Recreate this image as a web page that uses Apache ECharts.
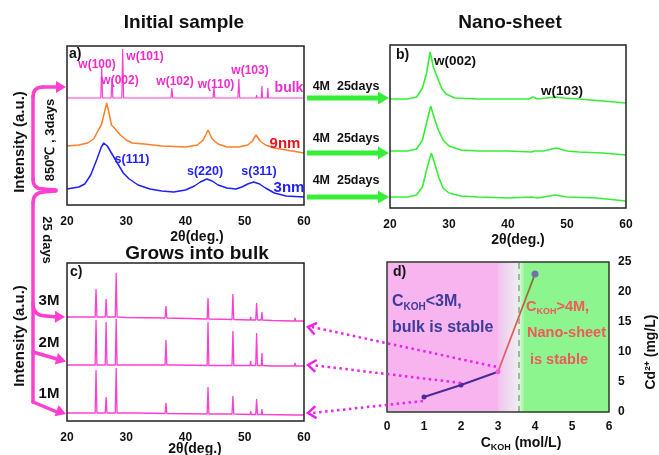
<!DOCTYPE html>
<html><head><meta charset="utf-8">
<script src="https://cdn.jsdelivr.net/npm/echarts@6/dist/echarts.min.js"></script>
<style>html,body{margin:0;padding:0;background:#fff}#c{width:659px;height:455px}</style>
</head><body><div id="c"></div>
<script>
// ---------- tick labels ----------
const xrdTicks = [20, 30, 40, 50, 60];
const kohTicks = [0, 1, 2, 3, 4, 5, 6];
const cdTicks = [0, 5, 10, 15, 20, 25];

// ---------- panel a: initial sample (2θ, intensity a.u.) ----------
const bulk = [[20,107],[25.7,107],[25.85,138],[26.0,107],[27.45,107],[27.6,127],[27.75,107],[29.25,107],[29.4,156],[29.55,107],
  [37.55,107],[37.7,117],[37.85,107],[44.65,107],[44.8,118],[44.95,107],[48.85,107],[49.0,126],[49.15,107],
  [51.9,107],[52.0,110],[52.1,107],[52.8,107],[52.9,119],[53.0,107],[53.8,107],[53.9,117],[54.0,107],
  [55.7,107],[55.8,108],[55.9,107],[59.3,107],[59.4,109],[59.5,107],[60,107]];
const nano9 = [[20,59],[22,60],[23.5,62],[24.5,66],[25.3,75],[25.8,80],[26.3,92],[26.7,102],[27.1,92],[27.5,80],[28,77],
  [29,70],[30,65],[31,62],[33,61],[36,59],[40,58],[42,60],[43,65],[43.8,75],[44.5,66],[45.5,61],[47,58],[49,58],
  [50.5,60],[51.3,64],[51.9,70],[52.6,64],[53.5,60],[55,57],[57,55],[60,52]];
const nano3 = [[20,16],[22,18],[23,21],[24,30],[25,45],[25.8,58],[26.2,62],[26.8,59],[27.5,52],[28.5,42],[29.5,32],[30.5,26],
  [32,20],[34,16],[36,14],[38,13],[40,15],[41.5,19],[42.5,23],[43.6,26],[44.5,24],[45.5,20],[47,17],[48.5,16],
  [49.5,18],[50.5,21],[51.5,23],[52.5,21],[53.5,17],[55,12],[57,9],[60,8]];

// ---------- panel b: nano-sheet after 4M, 25 days ----------
const sheetTop = [[20,109],[23,109],[24.5,111],[25.5,120],[26.2,135],[26.8,156],[27.4,140],[28,131],[28.8,119],[29.5,114],
  [31,110],[35,109],[40,109],[43.5,109],[44.2,111],[45,109],[46.5,110],[48,111],[49.5,110],[52,109],[56,107],[60,105]];
const sheetMid = [[20,57],[23,57],[24.5,59],[25.5,68],[26.2,85],[26.9,102],[27.5,90],[28.2,78],[29,68],[30,62],[32,58],
  [35,57],[40,57],[44,56],[44.5,57],[46,57],[48.2,60],[50,57],[52,56],[56,55],[60,53]];
const sheetBot = [[20,11],[23,11],[24.5,13],[25.5,21],[26.2,38],[27,55],[27.6,44],[28.3,30],[29,20],[30,15],[32,12],
  [35,11],[40,10],[44,11],[45,10],[48,13],[50,11],[55,10],[60,7]];

// ---------- panel c: grows into bulk ----------
const grow3M = [[20,104],[24.75,104],[24.9,132],[25.05,104],[26.45,104],[26.6,122],[26.75,104],[28.15,104],[28.3,148],[28.45,104],
  [30,103.5],[36.55,103],[36.7,115],[36.85,103],[43.65,102],[43.8,123],[43.95,102],[47.85,101.5],[48,127],[48.15,101.5],
  [50.9,101],[51,104],[51.1,101],[51.85,101],[52,118],[52.15,101],[52.8,101],[52.9,109],[53,101],
  [54.6,100.5],[54.7,102],[54.8,100.5],[58.4,100],[58.5,103],[58.6,100],[60,100]];
const grow2M = [[20,56],[24.75,56],[24.9,101],[25.05,56],[26.45,56],[26.6,99],[26.75,56],[28.15,56],[28.3,102],[28.45,56],
  [36.55,56],[36.7,81],[36.85,56],[38.4,56],[38.5,58],[38.6,56],[43.65,55.5],[43.8,99],[43.95,55.5],[47.85,55.5],[48,90],[48.15,55.5],
  [50.9,55.5],[51,60],[51.1,55.5],[51.85,55.5],[52,88],[52.15,55.5],[52.8,55.5],[52.9,68],[53,55.5],
  [54.6,55],[54.7,57],[54.8,55],[58.4,55],[58.5,58],[58.6,55],[60,55]];
const grow1M = [[20,8],[24.75,8],[24.9,51],[25.05,8],[26.45,8],[26.6,24],[26.75,8],[28.15,8],[28.3,53],[28.45,8],
  [31.9,8],[32,9],[32.1,8],[36.55,7.5],[36.7,18],[36.85,7.5],[43.65,7],[43.8,34],[43.95,7],[47.85,7],[48,25],[48.15,7],
  [50.9,6.5],[51,10],[51.1,6.5],[51.85,6.5],[52,22],[52.15,6.5],[52.8,6.5],[52.9,12],[53,6.5],[58.4,6],[58.5,8],[58.6,6],[60,6]];

// ---------- panel d: Cd2+ vs C_KOH ----------
const kohLow = [[1,2.5],[2,4.5],[3,6.7]];
const kohHigh = [[3,6.7],[4,23]];
const pinkEnd = 3, greenStart = 3.7, dashX = 3.57;

const FONT = '"Liberation Sans", Arial, sans-serif';
const PINK = '#ff3fd0';
const GREEN = '#36ee36';

const grids = [
  {left:67, top:46, width:237, height:159},
  {left:390, top:45, width:236, height:163},
  {left:67, top:263, width:237, height:158},
  {left:387, top:262, width:222, height:150}
];
const yMax = [159, 163, 158];

const chart = echarts.init(document.getElementById('c'), null, {renderer:'canvas'});

function xrdX(i){
  return {gridIndex:i, type:'value', min:xrdTicks[0], max:xrdTicks[xrdTicks.length-1], interval:xrdTicks[1]-xrdTicks[0],
    axisLine:{show:false}, axisTick:{show:false}, splitLine:{show:false},
    axisLabel:{fontWeight:'bold', fontSize:12, color:'#111', margin:11, fontFamily:FONT}};
}
function xrdY(i){ return {gridIndex:i, type:'value', min:0, max:yMax[i], show:false}; }
function ls(i, data, color, width){
  return {type:'line', xAxisIndex:i, yAxisIndex:i, data, symbol:'none', showSymbol:false, silent:true,
    lineStyle:{color, width}, z:3, animation:false};
}

chart.setOption({
  animation:false,
  grid: grids.map(g => Object.assign({containLabel:false}, g)),
  xAxis: [xrdX(0), xrdX(1), xrdX(2),
    {gridIndex:3, type:'value', min:kohTicks[0], max:kohTicks[kohTicks.length-1], interval:kohTicks[1]-kohTicks[0],
     axisLine:{show:false}, axisTick:{show:false}, splitLine:{show:false},
     axisLabel:{fontWeight:'bold', fontSize:12, color:'#111', margin:9, fontFamily:FONT}}],
  yAxis: [xrdY(0), xrdY(1), xrdY(2),
    {gridIndex:3, type:'value', position:'right', min:cdTicks[0], max:cdTicks[cdTicks.length-1], interval:cdTicks[1]-cdTicks[0],
     axisLine:{show:false}, axisTick:{show:false}, splitLine:{show:false},
     axisLabel:{fontWeight:'bold', fontSize:12, color:'#111', margin:9, fontFamily:FONT}}],
  series: [
    ls(0, bulk, PINK, 1.2), ls(0, nano9, '#ff7d24', 1.5), ls(0, nano3, '#1f1fff', 1.5),
    ls(1, sheetTop, GREEN, 1.6), ls(1, sheetMid, GREEN, 1.6), ls(1, sheetBot, GREEN, 1.6),
    ls(2, grow3M, PINK, 1.3), ls(2, grow2M, PINK, 1.3), ls(2, grow1M, PINK, 1.3),
    {type:'line', xAxisIndex:3, yAxisIndex:3, data:kohLow, symbol:'none', lineStyle:{opacity:0}, silent:true, z:1,
     markArea:{silent:true, data:[
       [{xAxis:kohTicks[0], itemStyle:{color:'#f7b4ef'}}, {xAxis:pinkEnd}],
       [{xAxis:pinkEnd, itemStyle:{color:{type:'linear', x:0, y:0, x2:1, y2:0, colorStops:[
          {offset:0, color:'#f1c3f0'}, {offset:0.7, color:'#eeeaf0'}, {offset:0.85, color:'#d8f6d8'}, {offset:1, color:'#98f598'}]}}},
        {xAxis:greenStart}],
       [{xAxis:greenStart, itemStyle:{color:'#8df58d'}}, {xAxis:kohTicks[kohTicks.length-1]}]
     ]},
     markLine:{silent:true, symbol:'none', label:{show:false}, lineStyle:{color:'#999', type:[6,5], width:1.5},
       data:[{xAxis:dashX}]}},
    {type:'line', xAxisIndex:3, yAxisIndex:3, z:5, silent:true,
     data: kohLow.map((p,i) => i === kohLow.length-1 ? {value:p, itemStyle:{color:'#ff55dd'}} : {value:p}),
     symbol:'circle', symbolSize:5, itemStyle:{color:'#4a2a9a'}, lineStyle:{color:'#4a2a9a', width:2}},
    {type:'line', xAxisIndex:3, yAxisIndex:3, z:4, silent:true,
     data: kohHigh.map((p,i) => i === 0 ? {value:p, symbol:'none'} : {value:p, symbolSize:7, itemStyle:{color:'#7272aa'}}),
     symbol:'circle',
     lineStyle:{width:1.8, color:{type:'linear', x:0, y:1, x2:0, y2:0, colorStops:[
       {offset:0, color:'#f2587a'}, {offset:0.5, color:'#dd6048'}, {offset:1, color:'#6c7a2c'}]}}}
  ]
});

// ---------- annotations ----------
const P = (i, pt) => chart.convertToPixel({xAxisIndex:i, yAxisIndex:i}, pt);
const G = [];
function txt(x, y, text, size, color, opts){
  opts = opts || {};
  G.push({type:'text', x, y, rotation:opts.rot || 0, z:70, silent:true,
    style:{text, fill:color || '#111', font:(opts.weight || 'bold') + ' ' + size + 'px ' + FONT,
      textAlign:opts.align || 'center', textVerticalAlign:'middle', align:opts.align || 'center', verticalAlign:'middle'}});
}
function rich(x, y, parts, size, color, align){
  const richDef = {
    b:{fontSize:size, fontWeight:'bold', fill:color, fontFamily:FONT, lineHeight:size+4, verticalAlign:'middle'},
    s:{fontSize:Math.round(size*0.62), fontWeight:'bold', fill:color, fontFamily:FONT, lineHeight:Math.round(size*0.62)+1, verticalAlign:'bottom'}
  };
  G.push({type:'text', x, y, z:70, silent:true,
    style:{text:parts, rich:richDef, textAlign:align||'left', align:align||'left', textVerticalAlign:'middle', verticalAlign:'middle'}});
}
function head(tip, from, len, hw, color){
  const dx = tip[0]-from[0], dy = tip[1]-from[1], L = Math.hypot(dx,dy), ux = dx/L, uy = dy/L;
  const bx = tip[0]-ux*len, by = tip[1]-uy*len;
  G.push({type:'polygon', z:60, silent:true, shape:{points:[[bx-uy*hw, by+ux*hw],[tip[0],tip[1]],[bx+uy*hw, by-ux*hw]]}, style:{fill:color}});
}
function chevron(tip, from, len, hw, color){
  const dx = tip[0]-from[0], dy = tip[1]-from[1], L = Math.hypot(dx,dy), ux = dx/L, uy = dy/L;
  const bx = tip[0]-ux*len, by = tip[1]-uy*len;
  G.push({type:'polyline', z:60, silent:true, shape:{points:[[bx-uy*hw, by+ux*hw],[tip[0],tip[1]],[bx+uy*hw, by-ux*hw]]},
    style:{stroke:color, lineWidth:2.5, fill:null}});
}
const bs = {stroke:PINK, lineWidth:3.5, lineCap:'round', fill:null};
function seg(x1,y1,x2,y2){ G.push({type:'line', z:55, silent:true, shape:{x1,y1,x2,y2}, style:bs}); }
function quad(x1,y1,cx,cy,x2,y2){ G.push({type:'bezierCurve', z:55, silent:true, shape:{x1,y1,x2,y2,cpx1:cx,cpy1:cy}, style:bs}); }

// frames
grids.forEach((g,i) => G.push({type:'rect', z:50, silent:true, shape:{x:g.left, y:g.top, width:g.width, height:g.height},
  style:{fill:null, stroke: i===3 ? '#2e3a2e' : '#222', lineWidth:1.5}}));

// titles
txt(184, 23, 'Initial sample', 19);
txt(510, 23, 'Nano-sheet', 19);
txt(197, 254, 'Grows into bulk', 19);
txt(69, 54, 'a)', 14, '#111', {align:'left'});
txt(396, 55, 'b)', 14, '#111', {align:'left'});
txt(70, 272, 'c)', 14, '#111', {align:'left'});
txt(393, 272, 'd)', 14, '#111', {align:'left'});

// axis names
txt(197, 237, '2θ(deg.)', 14);
txt(518, 240, '2θ(deg.)', 14);
txt(195, 449, '2θ(deg.)', 14);
rich(521, 443, '{b|C}{s|KOH}{b| (mol/L)}', 14, '#111', 'center');
txt(651, 352, 'Cd²⁺ (mg/L)', 14, '#111', {rot:Math.PI/2});

// panel a labels
const MAG = '#ee2ccc';
[['w(100)',97,65],['w(002)',120,81],['w(101)',145,57],['w(102)',175,82],['w(110)',216,85],['w(103)',250,71]]
  .forEach(([t,x,y]) => txt(x, y, t, 12, MAG));
txt(289, 88, 'bulk', 14, MAG);
txt(285, 144, '9nm', 15, '#e8141e');
txt(289, 188, '3nm', 15, '#1f1fff');
[['s(111)',132,160],['s(220)',205,172],['s(311)',259,172]].forEach(([t,x,y]) => txt(x, y, t, 12.5, '#1f1fff'));

// panel b labels
txt(455, 61, 'w(002)', 13.5);
txt(562, 91, 'w(103)', 13.5);

// green arrows a -> b
const aEnds = [bulk, nano9, nano3].map(s => P(0, s[s.length-1])[1]);
const tY = [87, 139, 181];
aEnds.forEach((y, k) => {
  const x0 = grids[0].left + grids[0].width + 3, tip = grids[1].left - 1;
  G.push({type:'line', z:60, silent:true, shape:{x1:x0, y1:y, x2:tip-9, y2:y}, style:{stroke:GREEN, lineWidth:5}});
  head([tip, y], [x0, y], 11, 6.5, GREEN);
  txt(346, tY[k], '4M  25days', 12.5);
});

// left side annotations
txt(20, 142, 'Intensity (a.u.)', 15, '#111', {rot:Math.PI/2});
txt(20, 336, 'Intensity (a.u.)', 15, '#111', {rot:Math.PI/2});
txt(50, 140, '850℃ , 3days', 13, '#111', {rot:Math.PI/2});
txt(47, 240, '25 days', 13, '#111', {rot:-Math.PI/2});
txt(49, 301, '3M', 15);
txt(49, 343, '2M', 15);
txt(49, 394, '1M', 15);

// brace + branches
seg(58,87,43,87); quad(43,87,33,87,33,97); seg(33,97,33,179); quad(33,179,33,189,43,189); seg(43,189,56,190);
seg(56,191,43,192); quad(43,192,33,193,33,203); seg(33,203,33,402);
quad(33,303,33,316,46,316); seg(46,316,57,317);
seg(33,352,57,359);
seg(33,402,57,412);
head([66, 87], [40, 87], 10, 6, PINK);
head([65, 317], [45, 316.5], 10, 6, PINK);
head([66, 361.5], [33, 352], 10, 6, PINK);
head([66, 414], [33, 402], 10, 6, PINK);

// panel d texts
rich(392, 302, '{b|C}{s|KOH}{b|<3M,}', 16, '#3c3c9c');
txt(392, 328, 'bulk is stable', 16, '#3c3c9c', {align:'left'});
rich(526, 307, '{b|C}{s|KOH}{b|>4M,}', 14.5, '#f05a5a');
txt(527, 333, 'Nano-sheet', 14.5, '#f05a5a', {align:'left'});
txt(530, 360, 'is stable', 14.5, '#f05a5a', {align:'left'});

// dotted arrows d -> c
const cEnds = [grow3M, grow2M, grow1M].map(s => P(2, s[s.length-1]));
const dPts = [P(3, kohLow[2]), P(3, kohLow[1]), P(3, kohLow[0])];
const yAdj = [6, -1, -2];
const sAdj = [[-2,-5],[0,-2],[-1,4]];
dPts.forEach((st, k) => {
  const tip = [grids[2].left + grids[2].width + 4, cEnds[k][1] + yAdj[k]];
  const start = [st[0] + sAdj[k][0], st[1] + sAdj[k][1]];
  G.push({type:'line', z:60, silent:true, shape:{x1:start[0], y1:start[1], x2:tip[0]+4, y2:tip[1]},
    style:{stroke:'#ee22ee', lineWidth:2.5, lineDash:[2.5, 3.5]}});
  chevron(tip, start, 8, 6, '#ee22ee');
});

chart.setOption({graphic: G});
</script></body></html>
